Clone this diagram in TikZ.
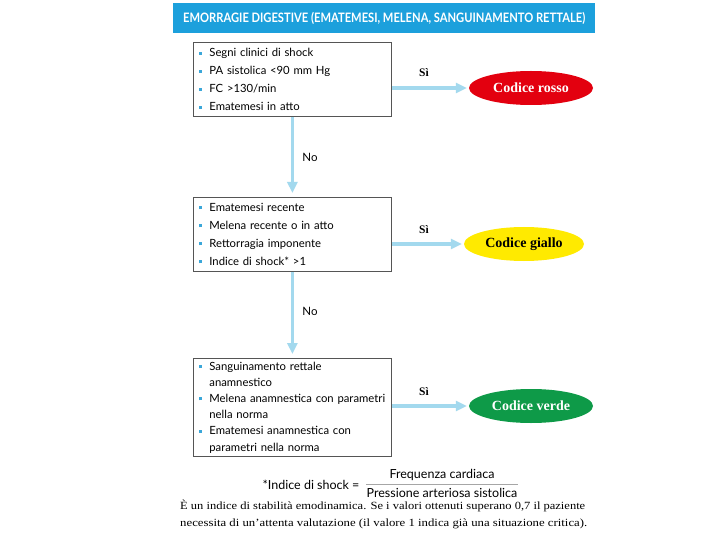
\documentclass[tikz,border=0pt]{standalone}
\usepackage{fontspec}
\usepackage{graphicx}
\setmainfont{Liberation Serif}
\newfontfamily\boxfont{Lato}
\usetikzlibrary{shapes.geometric,arrows.meta}
\definecolor{hdrblue}{HTML}{1CA0DC}
\definecolor{arrblue}{HTML}{A3D9EE}
\definecolor{bulblue}{HTML}{3BA7D9}
\definecolor{codred}{HTML}{E3000F}
\definecolor{codyellow}{HTML}{FFEA00}
\definecolor{codgreen}{HTML}{0E9A48}
\definecolor{boxgray}{HTML}{555555}
\newcommand{\bul}{\hspace*{4pt}\makebox[10pt][l]{\color{bulblue}\rule[2pt]{3pt}{3pt}}}
\newcommand{\cont}{\hspace*{14pt}}
\begin{document}
\begin{tikzpicture}[x=1pt,y=-1pt,
  critbox/.style={draw=boxgray, line width=0.8pt, anchor=north west,
    minimum width=198pt, text width=194pt, inner xsep=2pt, align=left,
    font=\boxfont\fontsize{11.3}{18}\selectfont},
  flowarrow/.style={draw=arrblue, line width=3.5pt,
    -{Triangle[length=11pt,width=10pt]}},
  codice/.style={ellipse, minimum width=124pt, minimum height=34pt,
    inner sep=0pt, text=white, font=\bfseries\fontsize{14}{16}\selectfont},
  silabel/.style={font=\bfseries\fontsize{11.5}{13}\selectfont},
  nolabel/.style={font=\boxfont\fontsize{11.5}{13}\selectfont},
  formtext/.style={font=\boxfont\fontsize{12.5}{14}\selectfont}]
\useasboundingbox[fill=white] (0,0) rectangle (720,540);

\node[fill=hdrblue, anchor=north west, minimum width=422pt, minimum height=30pt,
  inner sep=0pt, text=white, font=\boxfont\bfseries\fontsize{13}{15}\selectfont]
  (hdr) at (173,3)
  {\resizebox{402pt}{\height}{EMORRAGIE DIGESTIVE (EMATEMESI, MELENA, SANGUINAMENTO RETTALE)}};

\node[critbox, minimum height=74pt] (b1) at (193,42)
  {\bul Segni clinici di shock\\
   \bul PA sistolica <90 mm Hg\\
   \bul FC >130/min\\
   \bul Ematemesi in atto};

\node[critbox, minimum height=74pt] (b2) at (193,197)
  {\bul Ematemesi recente\\
   \bul Melena recente o in atto\\
   \bul Rettorragia imponente\\
   \bul Indice di shock* >1};

\node[critbox, minimum height=98pt, font=\boxfont\fontsize{11.3}{16.2}\selectfont] (b3) at (193,358)
  {\bul Sanguinamento rettale\\
   \cont anamnestico\\
   \bul Melena anamnestica con parametri\\
   \cont nella norma\\
   \bul Ematemesi anamnestica con\\
   \cont parametri nella norma};

\node[codice, fill=codred] (rosso) at (531,88) {Codice rosso};
\node[codice, fill=codyellow, text=black, minimum width=120pt] (giallo) at (524,244) {Codice giallo};
\node[codice, fill=codgreen] (verde) at (531,406) {Codice verde};

\draw[flowarrow, shorten >=2pt] (b1.east |- rosso.west) -- (rosso.west);
\draw[flowarrow, shorten >=2pt] (b2.east |- giallo.west) -- (giallo.west);
\draw[flowarrow, shorten >=2pt] (b3.east |- verde.west) -- (verde.west);
\draw[flowarrow, shorten >=4pt] (b1.south) -- (b2.north);
\draw[flowarrow, shorten >=4pt] (b2.south) -- (b3.north);

\node[silabel] (si1) at (424,73) {Sì};
\node[silabel] (si2) at (424,230) {Sì};
\node[silabel] (si3) at (424,392) {Sì};
\node[nolabel] (no1) at (310,157) {No};
\node[nolabel] (no2) at (310,311) {No};

\node[formtext, anchor=east] (idx) at (363,485) {*Indice di shock =};
\node[formtext] (num) at (442,475) {Frequenza cardiaca};
\node[formtext] (den) at (442,493) {Pressione arteriosa sistolica};
\draw[gray!70, line width=0.5pt] (366,484) -- (518,484);

\node[anchor=west, inner sep=0pt, font=\fontsize{11}{13}\selectfont] (fn1) at (180,506)
  {\resizebox{405pt}{\height}{È un indice di stabilità emodinamica. Se i valori ottenuti superano 0,7 il paziente}};
\node[anchor=west, inner sep=0pt, font=\fontsize{11}{13}\selectfont] (fn2) at (180,524)
  {\resizebox{407pt}{\height}{necessita di un'attenta valutazione (il valore 1 indica già una situazione critica).}};
\end{tikzpicture}
\end{document}
